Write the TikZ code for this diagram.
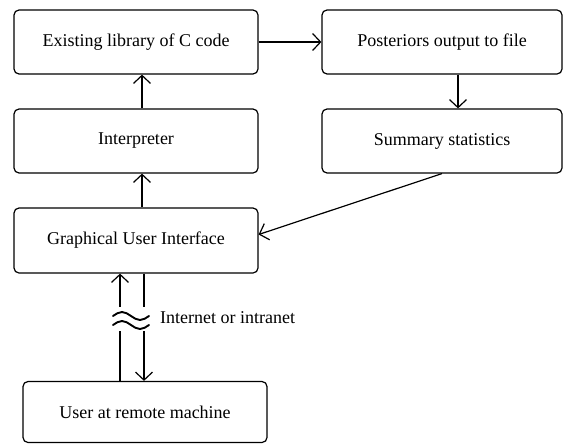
\documentclass[tikz,border=0pt]{standalone}
\usepackage{fontspec}
\setmainfont{Liberation Serif}
\usetikzlibrary{arrows.meta}

\tikzset{
  block/.style={draw, line width=1.2pt, rounded corners=5pt, minimum width=244pt, inner sep=0pt},
  link/.style={line width=1.2pt, -{Straight Barb[length=8pt,width=17pt,line width=1.2pt]}}
}

\begin{document}
\begin{tikzpicture}[x=1pt, y=-1pt, font=\fontsize{18}{20}\selectfont]
                \useasboundingbox (0,0) rectangle (564,444);
                \node[block, minimum height=64pt] (lib) at (136,42) {Existing library of C code}; \node[block, minimum height=64pt, minimum width=240pt] (post) at (442,42) {Posteriors output to file};
                \node[block, minimum height=64pt] (interp) at (136,141) {Interpreter}; \node[block, minimum height=64pt, minimum width=240pt] (summ) at (442,141) {Summary statistics};
                \node[block, minimum height=65pt] (gui) at (136,240.5) {Graphical User Interface};
                \node[block, minimum height=61pt] (user) at (145,412) {User at remote machine};

                \draw[link] ([xshift=6pt]interp.north) to ([xshift=6pt]lib.south); \draw[link] ([xshift=6pt]gui.north) to ([xshift=6pt]interp.south);
                \draw[link] (lib.east) to (post.west); \draw[link] ([xshift=16pt]post.south) to ([xshift=16pt]summ.north);
                \draw[link] (summ.south) to ([yshift=6pt]gui.east);
                \draw[link] ([xshift=-16pt]gui.south |- user.north) to ([xshift=-16pt]gui.south); \draw[link] ([xshift=8pt]gui.south) to ([xshift=8pt]gui.south |- user.north);

                % break in the network link
                \node[fill=white, minimum width=40pt, minimum height=24pt, inner sep=0pt] (net) at (131,319) {};
                \draw[line width=1.9pt, line cap=round] (net.center) ++(-18,-3) sin ++(9,-4) cos ++(9,4) sin ++(9,4) cos ++(9,-4);
                \draw[line width=1.9pt, line cap=round] (net.center) ++(-18,6) sin ++(9,-4) cos ++(9,4) sin ++(9,4) cos ++(9,-4);
                \node[anchor=west, inner sep=0pt] (netlabel) at (160,318) {Internet or intranet};
            \end{tikzpicture}
\end{document}
